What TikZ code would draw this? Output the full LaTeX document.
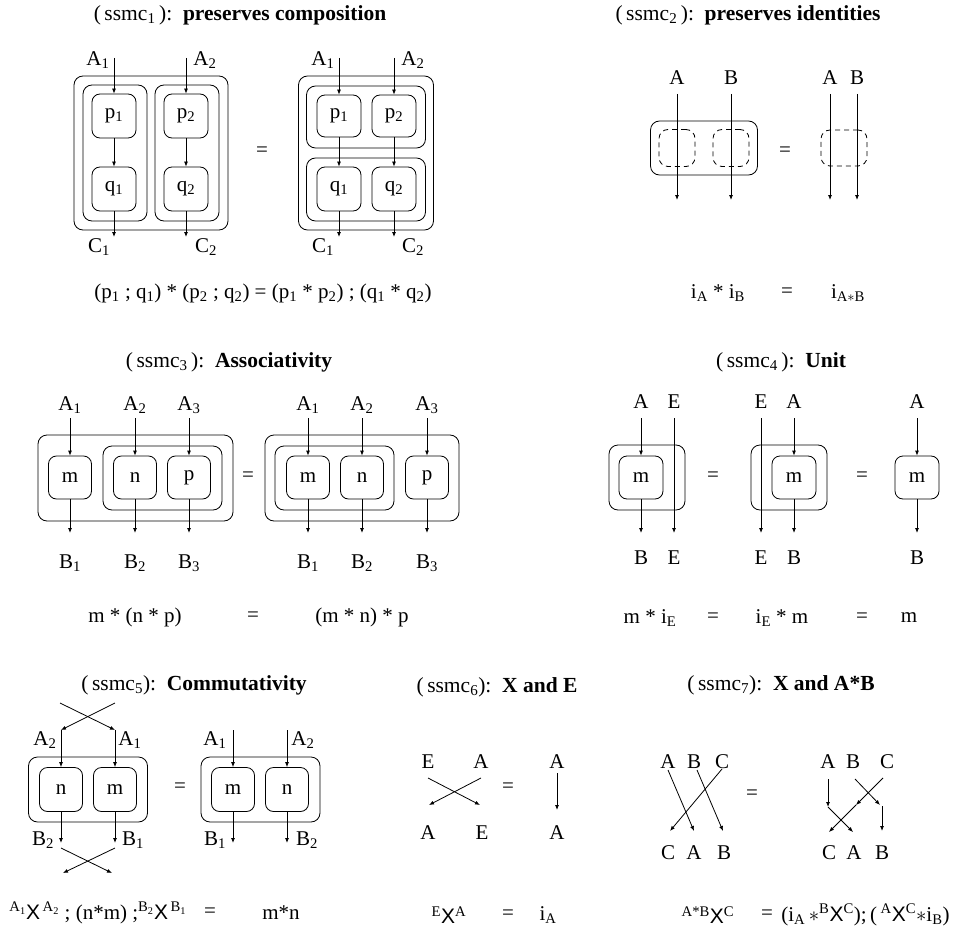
\documentclass[tikz,border=0pt]{standalone}
\usepackage{fontspec}
\setmainfont{Liberation Serif}
\newfontfamily\xfam{Liberation Sans}
\usetikzlibrary{arrows.meta}

\newcommand{\lo}[1]{\textsubscript{#1}}
\newcommand{\Xch}[2]{\textsuperscript{#1}{\xfam X}\textsuperscript{#2}}

\begin{document}
\begin{tikzpicture}[x=1pt,y=-1pt,line width=0.8pt,
  font=\fontsize{21}{25}\selectfont,
  box/.style={draw,rounded corners=8pt,minimum width=44pt,minimum height=44pt,inner sep=0pt},
  shell/.style={draw,rounded corners=9pt,inner sep=0pt},
  idbox/.style={draw,dash pattern=on 5pt off 4pt,rounded corners=9pt,inner sep=0pt},
  wire/.style={-{Latex[length=5pt,width=4pt]}},
  head/.style={inner sep=0pt,font=\fontsize{21.5}{25}\selectfont}]
  \useasboundingbox (0,0) rectangle (956,931);

  % (ssmc1)
  \node[head] (t1) at (240,15) {(\,ssmc\lo{1}\,):\ \ \textbf{preserves composition}};
  \node[shell,minimum width=154pt,minimum height=154pt] (s1) at (151,153) {};
  \node[shell,minimum width=64pt,minimum height=136pt] (s1a) at (115,153) {};
  \node[shell,minimum width=64pt,minimum height=136pt] (s1b) at (187,153) {};
  \node[shell,minimum width=135pt,minimum height=154pt] (r1) at (366,153) {};
  \node[shell,minimum width=119pt,minimum height=62pt] (r1a) at (366,117) {};
  \node[shell,minimum width=119pt,minimum height=63pt] (r1b) at (366,189.5) {};
  \foreach \n/\x/\y in {1/114/339,2/186/394}{
    \node[box] (p\n) at (\x,116) {p\lo{\n}};
    \node[box] (q\n) at (\x,189) {q\lo{\n}};
    \node[box,minimum height=42pt] (pp\n) at (\y,116) {p\lo{\n}};
    \node[box] (qq\n) at (\y,189) {q\lo{\n}};
    \coordinate (i\n) at (\x,58);  \coordinate (o\n) at (\x,237);
    \coordinate (ii\n) at (\y,58); \coordinate (oo\n) at (\y,237);
    \draw[wire] (i\n) -- (p\n);
    \draw[wire] (p\n) -- (q\n);
    \draw[wire] (q\n) -- (o\n);
    \draw[wire] (ii\n) -- (pp\n);
    \draw[wire] (pp\n) -- (qq\n);
    \draw[wire] (qq\n) -- (oo\n);
  }
  \node (la1) at (98,60) {A\lo{1}};
  \node (la2) at (205,60) {A\lo{2}};
  \node (lc1) at (99,247) {C\lo{1}};
  \node (lc2) at (206,247) {C\lo{2}};
  \node (ra1) at (323,60) {A\lo{1}};
  \node (ra2) at (413,60) {A\lo{2}};
  \node (rc1) at (323,247) {C\lo{1}};
  \node (rc2) at (413,247) {C\lo{2}};
  \node (eq1) at (262,152) {=};
  \node (law1) at (263,293) {(p\lo{1} ; q\lo{1}) * (p\lo{2} ; q\lo{2}) = (p\lo{1} * p\lo{2}) ; (q\lo{1} * q\lo{2})};

  % (ssmc2)
  \node[head] (t2) at (748,15) {(\,ssmc\lo{2}\,):\ \ \textbf{preserves identities}};
  \node[shell,minimum width=107pt,minimum height=54pt] (s2) at (704,148) {};
  \node[idbox,minimum width=36pt,minimum height=37pt] (ida) at (677,148) {};
  \node[idbox,minimum width=36pt,minimum height=37pt] (idb) at (731,148) {};
  \node[idbox,minimum width=46pt,minimum height=36pt] (idab) at (844,148) {};
  \foreach \n/\x/\t in {1/677/A,2/731/B,3/830/A,4/857/B}{
    \node (id\n) at (\x,78) {\t};
    \coordinate (ui\n) at (\x,94);
    \coordinate (uo\n) at (\x,200);
    \draw[wire] (ui\n) -- (uo\n);
  }
  \node (eq2) at (785,152) {=};
  \node (law2a) at (718,293) {i\lo{A} * i\lo{B}};
  \node (law2b) at (787,293) {=};
  \node (law2c) at (848,293) {i\lo{A$\ast$B}};

  % (ssmc3)
  \node[head] (t3) at (229,362) {(\,ssmc\lo{3}\,):\ \ \textbf{Associativity}};
  \node[shell,minimum width=195pt,minimum height=86pt] (s3) at (135.5,478) {};
  \node[shell,minimum width=119pt,minimum height=64pt] (s3a) at (162.5,478) {};
  \node[shell,minimum width=194pt,minimum height=86pt] (r3) at (362,478) {};
  \node[shell,minimum width=119pt,minimum height=64pt] (r3a) at (334.5,478) {};
  \foreach \n/\x/\y/\t in {1/70/308/m,2/135/362/n,3/189/427/p}{
    \node[box,minimum width=43pt,minimum height=43pt] (b\n) at (\x,477.5) {\t};
    \node[box,minimum width=43pt,minimum height=43pt] (bb\n) at (\y,477.5) {\t};
    \coordinate (ai\n) at (\x,418);  \coordinate (ao\n) at (\x,533);
    \coordinate (aai\n) at (\y,418); \coordinate (aao\n) at (\y,533);
    \draw[wire] (ai\n) -- (b\n);
    \draw[wire] (b\n) -- (ao\n);
    \draw[wire] (aai\n) -- (bb\n);
    \draw[wire] (bb\n) -- (aao\n);
    \node (ta\n) at (\x,405) {A\lo{\n}};
    \node (tta\n) at (\y,405) {A\lo{\n}};
    \node (tb\n) at (\x,563) {B\lo{\n}};
    \node (ttb\n) at (\y,563) {B\lo{\n}};
  }
  \node (eq3) at (248,477) {=};
  \node (law3a) at (135,617) {m * (n * p)};
  \node (law3b) at (253,617) {=};
  \node (law3c) at (362,617) {(m * n) * p};

  % (ssmc4)
  \node[head] (t4) at (781,362) {(\,ssmc\lo{4}\,):\ \ \textbf{Unit}};
  \node[shell,minimum width=76pt,minimum height=65pt] (s4) at (647,477.5) {};
  \node[shell,minimum width=76pt,minimum height=65pt] (r4) at (789,477.5) {};
  \node[box,minimum height=43pt] (m4a) at (641,477.5) {m};
  \node[box,minimum height=43pt] (m4b) at (794,477.5) {m};
  \node[box,minimum height=43pt] (m4c) at (917,477.5) {m};
  \foreach \n/\x in {a/641,b/794,c/917}{
    \coordinate (mi\n) at (\x,418); \coordinate (mo\n) at (\x,533);
    \draw[wire] (mi\n) -- (m4\n);
    \draw[wire] (m4\n) -- (mo\n);
  }
  \foreach \n/\x in {a/674,b/761}{
    \coordinate (ei\n) at (\x,418); \coordinate (eo\n) at (\x,533);
    \draw[wire] (ei\n) -- (eo\n);
  }
  \foreach \n/\x/\t/\b in {1/641/A/B,2/674/E/E,3/761/E/E,4/794/A/B,5/917/A/B}{
    \node (ut\n) at (\x,402) {\t};
    \node (ub\n) at (\x,558) {\b};
  }
  \node (eq4a) at (713,477) {=};
  \node (eq4b) at (862,477) {=};
  \node (law4a) at (650,618) {m * i\lo{E}};
  \node (law4b) at (713,618) {=};
  \node (law4c) at (782,618) {i\lo{E} * m};
  \node (law4d) at (862,618) {=};
  \node (law4e) at (909,618) {m};

  % (ssmc5)
  \node[head] (t5) at (194,685) {(\,ssmc\lo{5}):\ \ \textbf{Commutativity}};
  \node[shell,minimum width=119pt,minimum height=65pt] (s5) at (88,789.5) {};
  \node[shell,minimum width=119pt,minimum height=65pt] (r5) at (260.5,789.5) {};
  \node[box,minimum width=43pt] (n5) at (61,789.5) {n};
  \node[box,minimum width=43pt] (m5) at (115,789.5) {m};
  \node[box,minimum width=43pt] (mm5) at (233,789.5) {m};
  \node[box,minimum width=43pt] (nn5) at (287,789.5) {n};
  \coordinate (x1) at (60,703);  \coordinate (x2) at (115,703);
  \coordinate (x3) at (61,730);  \coordinate (x4) at (115,730);
  \coordinate (x5) at (61,843);  \coordinate (x6) at (115,843);
  \coordinate (x7) at (61,848);  \coordinate (x8) at (115,848);
  \coordinate (x9) at (63,873);  \coordinate (x10) at (112,873);
  \draw[wire] (x1) -- (x4);
  \draw[wire] (x2) -- (x3);
  \draw[wire] (x3) -- (n5);
  \draw[wire] (x4) -- (m5);
  \draw[wire] (n5) -- (x5);
  \draw[wire] (m5) -- (x6);
  \draw[wire] (x7) -- (x10);
  \draw[wire] (x8) -- (x9);
  \foreach \n/\x in {1/233,2/287}{
    \coordinate (ci\n) at (\x,730); \coordinate (co\n) at (\x,843);
  }
  \draw[wire] (ci1) -- (mm5);
  \draw[wire] (mm5) -- (co1);
  \draw[wire] (ci2) -- (nn5);
  \draw[wire] (nn5) -- (co2);
  \node (ca2) at (45,740) {A\lo{2}};
  \node (ca1) at (130,740) {A\lo{1}};
  \node (cb2) at (43,840) {B\lo{2}};
  \node (cb1) at (133,840) {B\lo{1}};
  \node (cca1) at (215,740) {A\lo{1}};
  \node (cca2) at (303,740) {A\lo{2}};
  \node (ccb1) at (215,840) {B\lo{1}};
  \node (ccb2) at (307,840) {B\lo{2}};
  \node (eq5) at (180,788) {=};
  \node (law5a) at (98,913) {\Xch{A\lo{1}}{\,A\lo{2}} ; (n*m) ;\Xch{B\lo{2}}{\,B\lo{1}}};
  \node (law5b) at (210,913) {=};
  \node (law5c) at (281,913) {m*n};

  % (ssmc6)
  \node[head] (t6) at (497,687) {(\,ssmc\lo{6}):\ \ \textbf{X and E}};
  \node (xe1) at (428,762) {E};
  \node (xe2) at (481,762) {A};
  \node (xe3) at (428,833) {A};
  \node (xe4) at (482,833) {E};
  \node (xe5) at (557,762) {A};
  \node (xe6) at (557,833) {A};
  \coordinate (y1) at (428,778); \coordinate (y2) at (481,778);
  \coordinate (y3) at (429,805); \coordinate (y4) at (480,805);
  \coordinate (y5) at (557,773); \coordinate (y6) at (557,810);
  \draw[wire] (y1) -- (y4);
  \draw[wire] (y2) -- (y3);
  \draw[wire] (y5) -- (y6);
  \node (eq6) at (508,788) {=};
  \node (law6a) at (449,915) {\Xch{E}{A}};
  \node (law6b) at (508,915) {=};
  \node (law6c) at (548,915) {i\lo{A}};

  % (ssmc7)
  \node[head] (t7) at (781,685) {(\,ssmc\lo{7}):\ \ \textbf{X and A*B}};
  \foreach \n/\x/\t in {1/668/A,2/694/B,3/722/C,4/828/A,5/853/B,6/887/C}{
    \node (zt\n) at (\x,762) {\t};
  }
  \foreach \n/\x/\t in {1/668/C,2/694/A,3/724/B,4/829/C,5/854/A,6/882/B}{
    \node (zb\n) at (\x,853) {\t};
  }
  \coordinate (z1) at (668,770); \coordinate (z2) at (694,831);
  \coordinate (z3) at (697,770); \coordinate (z4) at (723,831);
  \coordinate (z5) at (722,769); \coordinate (z6) at (670,831);
  \draw[wire] (z1) -- (z2);
  \draw[wire] (z3) -- (z4);
  \draw[wire] (z5) -- (z6);
  \coordinate (w1) at (828,779); \coordinate (w2) at (828,807);
  \coordinate (w3) at (855,779); \coordinate (w4) at (880,805);
  \coordinate (w5) at (883,778); \coordinate (w6) at (856,805);
  \coordinate (w7) at (853,832); \coordinate (w8) at (829,832);
  \coordinate (w9) at (882,806); \coordinate (w10) at (882,831);
  \draw[wire] (w1) -- (w2);
  \draw[wire] (w3) -- (w4);
  \draw[wire] (w5) -- (w6);
  \draw[wire] (w2) -- (w7);
  \draw[wire] (w6) -- (w8);
  \draw[wire] (w9) -- (w10);
  \node (eq7) at (752,795) {=};
  \node (law7a) at (708,915) {\Xch{A*B}{C}};
  \node (law7b) at (767,915) {=};
  \node[anchor=west,inner sep=0pt] (law7c) at (781,915) {(i\lo{A}\,$\ast$\Xch{B}{C});\,(\,\Xch{A}{C}$\ast$i\lo{B})};
\end{tikzpicture}
\end{document}
